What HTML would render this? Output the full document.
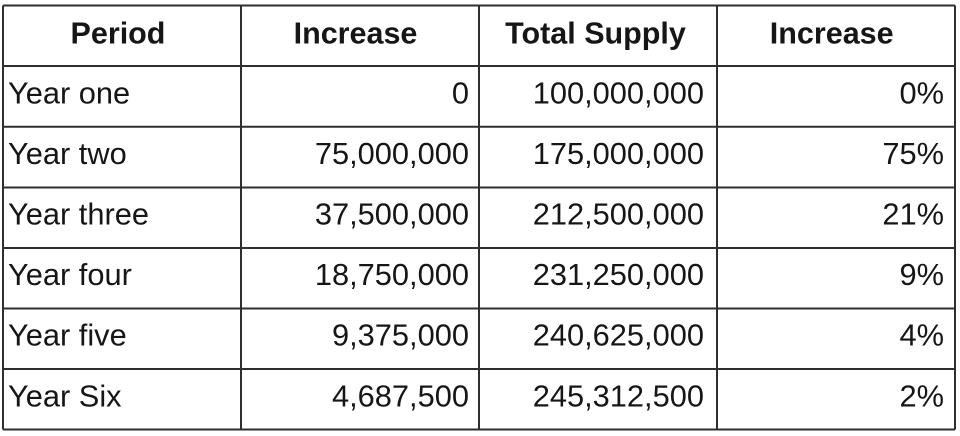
<!DOCTYPE html>
<html>
<head>
<meta charset="utf-8">
<style>
  html, body { margin:0; padding:0; background:#fff; }
  body { width:960px; height:436px; overflow:hidden; }
  svg { display:block; }
  text { font-family: "Liberation Sans", Arial, sans-serif; fill:#161616; }
  .h { font-weight:bold; font-size:30.5px; }
  .b { font-size:30.8px; }
</style>
</head>
<body>
<svg width="960" height="436" viewBox="0 0 960 436" xmlns="http://www.w3.org/2000/svg">
  <rect x="0" y="0" width="960" height="436" fill="#fff"/>
  <g stroke="#2e2e2e" stroke-width="2" fill="none">
    <line x1="3" y1="5.5" x2="955" y2="5.5"/>
    <line x1="3" y1="66" x2="955" y2="66"/>
    <line x1="3" y1="126.8" x2="955" y2="126.8"/>
    <line x1="3" y1="187.5" x2="955" y2="187.5"/>
    <line x1="3" y1="248" x2="955" y2="248"/>
    <line x1="3" y1="308.5" x2="955" y2="308.5"/>
    <line x1="3" y1="369" x2="955" y2="369"/>
    <line x1="3" y1="429.5" x2="955" y2="429.5"/>
    <line x1="3" y1="5.5" x2="3" y2="429.5"/>
    <line x1="241" y1="5.5" x2="241" y2="429.5"/>
    <line x1="479" y1="5.5" x2="479" y2="429.5"/>
    <line x1="717" y1="5.5" x2="717" y2="429.5"/>
    <line x1="955" y1="5.5" x2="955" y2="429.5"/>
  </g>
  <g class="h" text-anchor="middle">
    <text class="h" x="118" y="43.3">Period</text>
    <text class="h" x="355.5" y="43.3">Increase</text>
    <text class="h" x="595.5" y="43.3">Total Supply</text>
    <text class="h" x="831.7" y="43.3">Increase</text>
  </g>
  <g>
    <text class="b" x="8" y="103.3">Year one</text>
    <text class="b" x="8" y="163.9">Year two</text>
    <text class="b" x="8" y="224.5">Year three</text>
    <text class="b" x="8" y="285.1">Year four</text>
    <text class="b" x="8" y="345.7">Year five</text>
    <text class="b" x="8" y="406.3">Year Six</text>
  </g>
  <g text-anchor="end">
    <text class="b" x="469" y="103.3">0</text>
    <text class="b" x="469" y="163.9">75,000,000</text>
    <text class="b" x="469" y="224.5">37,500,000</text>
    <text class="b" x="469" y="285.1">18,750,000</text>
    <text class="b" x="469" y="345.7">9,375,000</text>
    <text class="b" x="469" y="406.3">4,687,500</text>

    <text class="b" x="704" y="103.3">100,000,000</text>
    <text class="b" x="704" y="163.9">175,000,000</text>
    <text class="b" x="704" y="224.5">212,500,000</text>
    <text class="b" x="704" y="285.1">231,250,000</text>
    <text class="b" x="704" y="345.7">240,625,000</text>
    <text class="b" x="704" y="406.3">245,312,500</text>

    <text class="b" x="944" y="103.3">0%</text>
    <text class="b" x="944" y="163.9">75%</text>
    <text class="b" x="944" y="224.5">21%</text>
    <text class="b" x="944" y="285.1">9%</text>
    <text class="b" x="944" y="345.7">4%</text>
    <text class="b" x="944" y="406.3">2%</text>
  </g>
</svg>
</body>
</html>
